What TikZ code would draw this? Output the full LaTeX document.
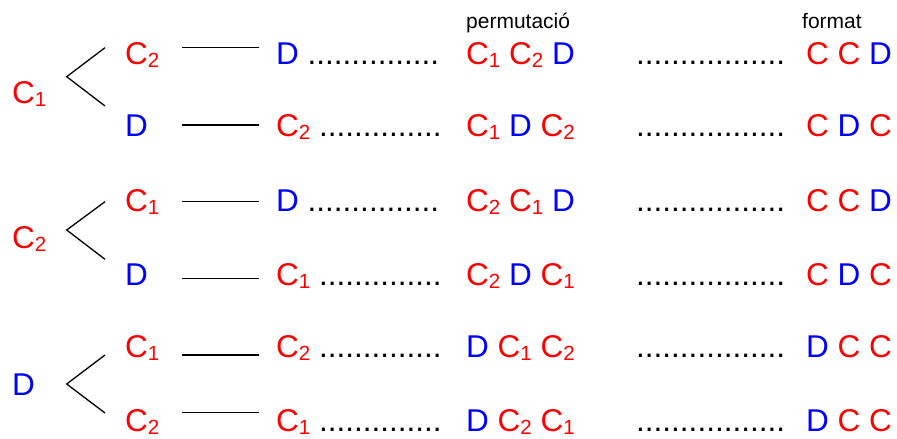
\documentclass[tikz,border=0pt]{standalone}
\usepackage{fontspec}
\setmainfont{Liberation Sans}
\definecolor{cred}{RGB}{255,0,0}
\definecolor{cblue}{RGB}{0,0,255}
\newcommand\Cr[1]{\textcolor{cred}{C\raisebox{-3.5pt}{\fontsize{20.5}{20.5}\selectfont #1}}}
\newcommand\Cp{\textcolor{cred}{C}}
\newcommand\Db{\textcolor{cblue}{D}}
\tikzset{
  big/.style={anchor=base west, inner sep=0pt, font=\fontsize{31.5}{36}\selectfont},
  small/.style={anchor=base west, inner sep=0pt, font=\fontsize{21}{25}\selectfont},
  ln/.style={line width=1.3pt, black}
}
\begin{document}
\begin{tikzpicture}[x=1pt,y=-1pt]
\useasboundingbox (0,0) rectangle (897,439);
% headers
\node[small] (hperm) at (466,28) {permutació};
\node[small] (hform) at (802,28) {format};
% roots
\node[big] (r1) at (12,103) {\Cr{1}};
\node[big] (r2) at (12,248) {\Cr{2}};
\node[big] (r3) at (12,395) {\Db};
% second column
\node[big] (a1) at (125,64) {\Cr{2}};
\node[big] (a2) at (125,136) {\Db};
\node[big] (a3) at (125,211) {\Cr{1}};
\node[big] (a4) at (125,285) {\Db};
\node[big] (a5) at (125,357) {\Cr{1}};
\node[big] (a6) at (125,431) {\Cr{2}};
% third column with dots
\node[big] (b1) at (276,64) {\Db{} ...............};
\node[big] (b2) at (276,136) {\Cr{2} ..............};
\node[big] (b3) at (276,211) {\Db{} ...............};
\node[big] (b4) at (276,285) {\Cr{1} ..............};
\node[big] (b5) at (276,357) {\Cr{2} ..............};
\node[big] (b6) at (276,431) {\Cr{1} ..............};
% permutations
\node[big] (p1) at (466,64) {\Cr{1} \Cr{2} \Db};
\node[big] (p2) at (466,136) {\Cr{1} \Db{} \Cr{2}};
\node[big] (p3) at (466,211) {\Cr{2} \Cr{1} \Db};
\node[big] (p4) at (466,285) {\Cr{2} \Db{} \Cr{1}};
\node[big] (p5) at (466,357) {\Db{} \Cr{1} \Cr{2}};
\node[big] (p6) at (466,431) {\Db{} \Cr{2} \Cr{1}};
% dots
\foreach \y/\n in {64/d1,136/d2,211/d3,285/d4,357/d5,431/d6}
  \node[big] (\n) at (636,\y) {.................};
% format
\node[big] (f1) at (806,64) {\Cp{} \Cp{} \Db};
\node[big] (f2) at (806,136) {\Cp{} \Db{} \Cp};
\node[big] (f3) at (806,211) {\Cp{} \Cp{} \Db};
\node[big] (f4) at (806,285) {\Cp{} \Db{} \Cp};
\node[big] (f5) at (806,357) {\Db{} \Cp{} \Cp};
\node[big] (f6) at (806,431) {\Db{} \Cp{} \Cp};
% branch coordinates
\coordinate (v1) at (66.7,76.7);
\coordinate (u1) at (105,47.7);
\coordinate (w1) at (105,106);
\coordinate (v2) at (66.7,230);
\coordinate (u2) at (105,201.7);
\coordinate (w2) at (105,259.3);
\coordinate (v3) at (66.7,384);
\coordinate (u3) at (105,355);
\coordinate (w3) at (105,413);
\foreach \i in {1,2,3}
  \draw[ln] (u\i) -- (v\i) -- (w\i);
% horizontal lines
\foreach \y [count=\i] in {47.7,125,201.7,278.3,355,412.7} {
  \coordinate (hs\i) at (181.7,\y);
  \coordinate (he\i) at (259,\y);
  \draw[ln] (hs\i) -- (he\i);
}
\end{tikzpicture}
\end{document}
